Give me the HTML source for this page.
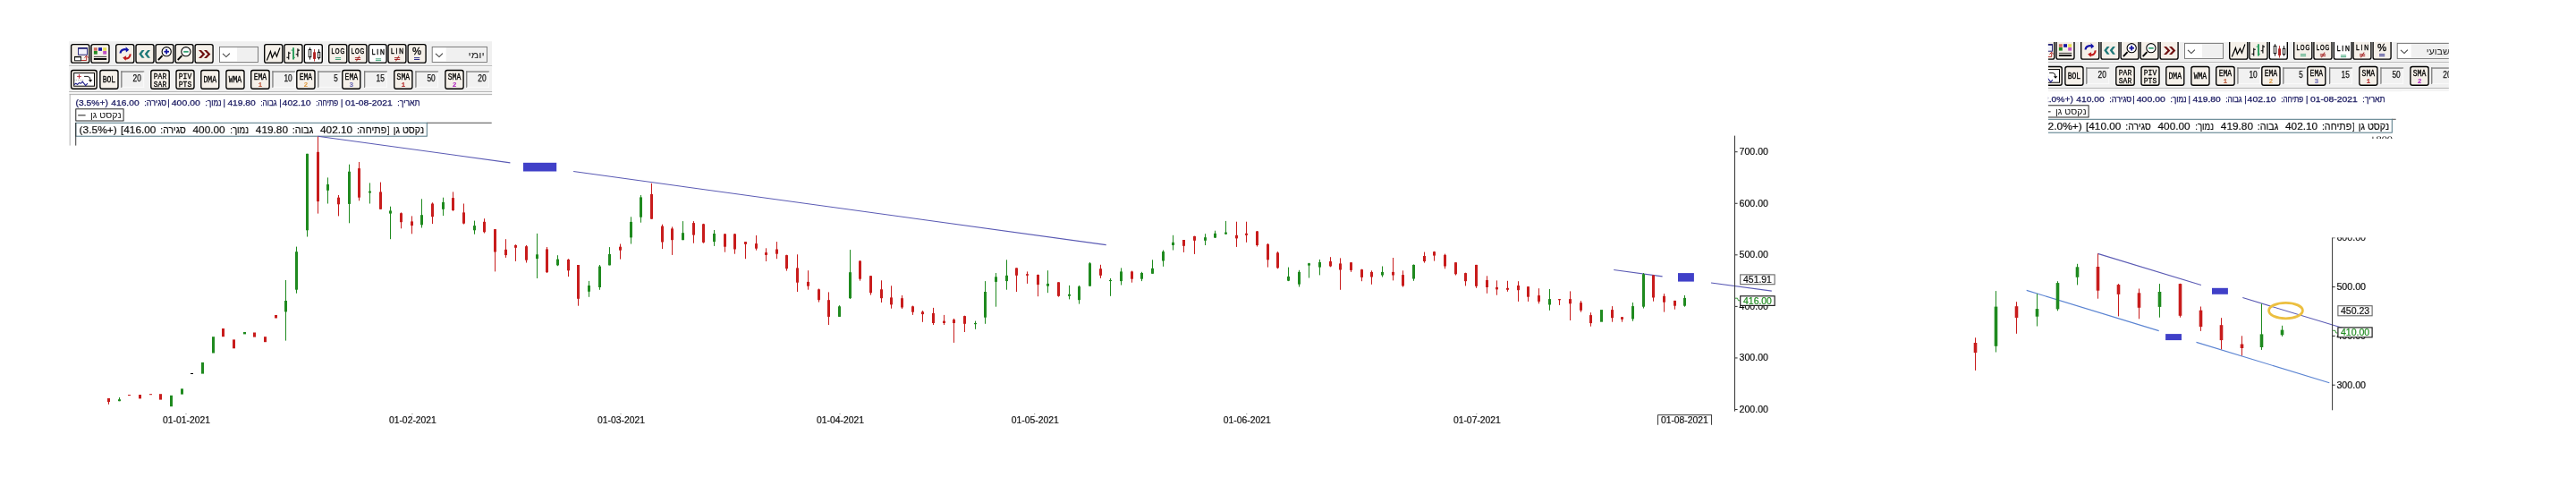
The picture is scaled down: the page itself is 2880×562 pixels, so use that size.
<!DOCTYPE html>
<html><head><meta charset="utf-8"><title>chart</title>
<style>html,body{margin:0;padding:0;background:#fff;width:2880px;height:562px;overflow:hidden;font-family:"Liberation Sans",sans-serif}</style>
</head><body>
<svg width="2880" height="562" viewBox="0 0 2880 562" style="position:absolute;left:0;top:0;display:block;will-change:transform">
<defs><clipPath id="cr1"><rect x="2289.9" y="47" width="447.9" height="55.5"/></clipPath><clipPath id="cr2"><rect x="2289.9" y="102.5" width="395" height="53"/></clipPath><clipPath id="cl"><rect x="0" y="0" width="2100" height="474.7"/></clipPath><clipPath id="crc"><rect x="2180" y="265.6" width="520" height="193"/></clipPath><clipPath id="cfrag"><rect x="2640" y="152.4" width="50" height="2.6"/></clipPath></defs>
<rect width="2880" height="562" fill="#fff"/>
<g clip-path="url(#cl)">
<rect x="77.2" y="46.2" width="472.9" height="59.4" fill="#f0f0f0"/>
<rect x="77.2" y="73.3" width="472.9" height="0.9" fill="#a5a5a5"/><rect x="77.2" y="74.2" width="472.9" height="0.9" fill="#fdfdfd"/>
<rect x="77.2" y="102" width="472.9" height="0.9" fill="#a5a5a5"/><rect x="77.2" y="102.9" width="472.9" height="0.9" fill="#fdfdfd"/>
<rect x="79.6" y="49.6" width="20.2" height="20.5" rx="2.2" ry="2.2" fill="#f5f0e9" stroke="#000" stroke-width="1.35"/>
<rect x="87.6" y="53.9" width="9.9" height="7.3" fill="#f2f2fb" stroke="#10106a" stroke-width="0.9"/><rect x="87.2" y="53.2" width="10.7" height="1.4" fill="#10106a"/>
<rect x="83.6" y="63.6" width="6.8" height="4.2" fill="#fff" stroke="#000" stroke-width="0.9"/><rect x="83.1" y="62.9" width="7.8" height="1.3" fill="#000"/>
<path d="M91 67.5 H96.7 V63.2" stroke="#b02020" stroke-width="0.9" fill="none"/><path d="M94.6 64.6 L96.7 62.2 L98.8 64.6" stroke="#b02020" stroke-width="1" fill="none"/>
<rect x="102" y="49.6" width="20" height="20.5" rx="2.2" ry="2.2" fill="#f5f0e9" stroke="#000" stroke-width="1.35"/>
<rect x="104.9" y="53.2" width="3.9" height="3.6" fill="#d07060"/>
<rect x="110.1" y="53.2" width="3.9" height="3.6" fill="#1414a0"/>
<rect x="115.2" y="53.2" width="3.9" height="3.6" fill="#e8e050"/>
<rect x="104.9" y="57" width="3.9" height="3.6" fill="#208a20"/>
<rect x="115.2" y="57" width="3.9" height="3.6" fill="#c050c4"/>
<rect x="104.9" y="62.9" width="14.3" height="0.8" fill="#000"/><rect x="104.9" y="65" width="14.3" height="1.9" fill="#000"/>
<rect x="129.7" y="49.6" width="20.1" height="20.5" rx="2.2" ry="2.2" fill="#f5f0e9" stroke="#000" stroke-width="1.35"/>
<path d="M134.6 59.6 C134.6 55.8 138.5 54.4 142 55.6" stroke="#1414a8" stroke-width="2.1" fill="none"/><path d="M140.6 52.2 L144.3 55.8 L140.9 58.4 Z" fill="#1414a8"/>
<path d="M145.6 60.4 C145.8 64.4 142.4 66 139.6 65.2" stroke="#c01818" stroke-width="2.1" fill="none"/><path d="M141.2 62.2 L137.2 64.6 L140.6 67.8 Z" fill="#c01818"/>
<rect x="152" y="49.6" width="20" height="20.5" rx="2.2" ry="2.2" fill="#f5f0e9" stroke="#000" stroke-width="1.35"/>
<path d="M158.7 56 L155.3 60.3 L158.7 64.7 L161.6 64.7 L158.3 60.3 L161.6 56 Z" fill="#1f7878"/>
<path d="M165.1 56 L161.7 60.3 L165.1 64.7 L168 64.7 L164.7 60.3 L168 56 Z" fill="#1f7878"/>
<rect x="174.1" y="49.6" width="19.9" height="20.5" rx="2.2" ry="2.2" fill="#f5f0e9" stroke="#000" stroke-width="1.35"/>
<path d="M181.6 62.2 L176.9 67" stroke="#000" stroke-width="1.8"/><circle cx="186.2" cy="57.7" r="5.1" fill="#fff" stroke="#000" stroke-width="1.1"/>
<rect x="183.4" y="56.8" width="5.6" height="1.8" fill="#1414a0"/><rect x="185.3" y="54.9" width="1.8" height="5.6" fill="#1414a0"/>
<rect x="196.1" y="49.6" width="19.9" height="20.5" rx="2.2" ry="2.2" fill="#f5f0e9" stroke="#000" stroke-width="1.35"/>
<path d="M203.4 62.2 L198.7 67" stroke="#000" stroke-width="1.8"/><circle cx="207.9" cy="57.7" r="5.1" fill="#fff" stroke="#000" stroke-width="1.1"/>
<rect x="205.2" y="56.9" width="5.5" height="1.8" fill="#30a070"/>
<rect x="218.1" y="49.6" width="20" height="20.5" rx="2.2" ry="2.2" fill="#f5f0e9" stroke="#000" stroke-width="1.35"/>
<path d="M222 56 L225 56 L229.4 60.5 L225 65 L222 65 L226.3 60.5 Z" fill="#6e1010"/>
<path d="M228 56 L231 56 L235.4 60.5 L231 65 L228 65 L232.3 60.5 Z" fill="#6e1010"/>
<rect x="245.5" y="52.4" width="43" height="17" fill="#fff" stroke="#707070" stroke-width="0.9"/><rect x="264.9" y="53" width="23.1" height="15.9" fill="#f0f0f0"/>
<path d="M249 59.8 L252.9 63.6 L256.9 59.6" stroke="#444" stroke-width="1.1" fill="none"/>
<rect x="295.7" y="49.6" width="20.1" height="20.5" rx="2.2" ry="2.2" fill="#f5f0e9" stroke="#000" stroke-width="1.35"/>
<path d="M298.3 67.5 L302.4 57.4 L304.3 64.3 L307.5 58.3 L309.4 63.1 L312.9 53.5" stroke="#000" stroke-width="1.2" fill="none"/>
<rect x="317.9" y="49.6" width="20.1" height="20.5" rx="2.2" ry="2.2" fill="#f5f0e9" stroke="#000" stroke-width="1.35"/>
<path d="M322.75 57.7 V66.6 M320.4 64.3 H322.75 M322.75 59.3 H324.8" stroke="#000" stroke-width="1.1" fill="none"/>
<path d="M328 53.2 V66.6" stroke="#30a060" stroke-width="2"/><path d="M325.6 56.1 H328 M328 64.3 H329.9" stroke="#30a060" stroke-width="1" fill="none"/>
<path d="M332.9 54.2 V63.4 M330.7 60.7 H332.9 M332.9 56.1 H334.9" stroke="#000" stroke-width="1.1" fill="none"/>
<rect x="340.3" y="49.6" width="20" height="20.5" rx="2.2" ry="2.2" fill="#ffffff" stroke="#000" stroke-width="1.35"/>
<path d="M346.5 53.2 V66.6" stroke="#000" stroke-width="0.9"/><rect x="345.2" y="55.4" width="2.6" height="8.3" fill="#fff" stroke="#000" stroke-width="0.9"/>
<path d="M351.5 55.1 V68.5" stroke="#b02020" stroke-width="0.9"/><rect x="350.1" y="58.3" width="2.9" height="7.6" fill="#b02020"/>
<path d="M356.5 55.1 V66.6" stroke="#000" stroke-width="0.9"/><rect x="355.3" y="58.3" width="2.5" height="6.4" fill="#fff" stroke="#000" stroke-width="0.9"/>
<rect x="367.7" y="49.6" width="20.1" height="20.5" rx="2.2" ry="2.2" fill="#f5f0e9" stroke="#000" stroke-width="1.35"/>
<text x="370.6" y="59.8" font-size="8.5" fill="#000" font-family="Liberation Sans, sans-serif" stroke="#000" stroke-width="0.4" textLength="15.4" lengthAdjust="spacingAndGlyphs" letter-spacing="1.2">LOG</text>
<rect x="374.9" y="64.2" width="6.2" height="0.9" fill="#30a070"/><rect x="374.9" y="66" width="6.2" height="0.9" fill="#30a070"/>
<rect x="389.9" y="49.6" width="20.1" height="20.5" rx="2.2" ry="2.2" fill="#f5f0e9" stroke="#000" stroke-width="1.35"/>
<text x="392.8" y="59.8" font-size="8.5" fill="#000" font-family="Liberation Sans, sans-serif" stroke="#000" stroke-width="0.4" textLength="15.3" lengthAdjust="spacingAndGlyphs" letter-spacing="1.2">LOG</text>
<rect x="396.9" y="64.2" width="6.2" height="0.9" fill="#a01818"/><rect x="396.9" y="66" width="6.2" height="0.9" fill="#a01818"/><path d="M398.4 68.4 L401.9 62.4" stroke="#a01818" stroke-width="0.9" fill="none"/>
<rect x="412.3" y="49.6" width="19.8" height="20.5" rx="2.2" ry="2.2" fill="#ffffff" stroke="#000" stroke-width="1.35"/>
<text x="415.7" y="60.9" font-size="8.5" fill="#000" font-family="Liberation Sans, sans-serif" stroke="#000" stroke-width="0.4" textLength="16.2" lengthAdjust="spacingAndGlyphs" letter-spacing="2.4">LIN</text>
<rect x="419.9" y="65.4" width="6.2" height="0.9" fill="#30a070"/><rect x="419.9" y="67.2" width="6.2" height="0.9" fill="#30a070"/>
<rect x="434" y="49.6" width="19.9" height="20.5" rx="2.2" ry="2.2" fill="#f5f0e9" stroke="#000" stroke-width="1.35"/>
<text x="436.9" y="59.8" font-size="8.5" fill="#000" font-family="Liberation Sans, sans-serif" stroke="#000" stroke-width="0.4" textLength="16" lengthAdjust="spacingAndGlyphs" letter-spacing="2.4">LIN</text>
<rect x="441" y="64.2" width="6.2" height="0.9" fill="#a01818"/><rect x="441" y="66" width="6.2" height="0.9" fill="#a01818"/><path d="M442.5 68.4 L446 62.4" stroke="#a01818" stroke-width="0.9" fill="none"/>
<rect x="456.1" y="49.6" width="20" height="20.5" rx="2.2" ry="2.2" fill="#f5f0e9" stroke="#000" stroke-width="1.35"/>
<text x="461.1" y="61.1" font-size="11.4" fill="#000" font-family="Liberation Sans, sans-serif" stroke="#000" stroke-width="0.3" textLength="10.1" lengthAdjust="spacingAndGlyphs" >%</text>
<rect x="463" y="64.2" width="6.2" height="0.9" fill="#1a1a80"/><rect x="463" y="66" width="6.2" height="0.9" fill="#1a1a80"/>
<rect x="483.2" y="52.4" width="61.3" height="17" fill="#fff" stroke="#707070" stroke-width="0.9"/><rect x="498.7" y="53" width="45.2" height="15.9" fill="#f0f0f0"/>
<path d="M487 59.8 L491 63.6 L494.9 59.6" stroke="#444" stroke-width="1.1" fill="none"/>
<text x="541.8" y="64.6" font-size="10.5" fill="#222" font-family="Liberation Sans, sans-serif" textLength="18.3" lengthAdjust="spacingAndGlyphs" direction="rtl">יומי</text>
<rect x="79.6" y="78.5" width="28.6" height="20.7" rx="2.2" ry="2.2" fill="#f5f0e9" stroke="#000" stroke-width="1.35"/>
<rect x="82.7" y="81.6" width="22.8" height="14.6" fill="#fff" stroke="#000" stroke-width="1"/>
<path d="M86.1 85.4 H90.9 M88.5 83 V87.8" stroke="#b02030" stroke-width="0.9"/>
<path d="M83.4 89.4 H94.2" stroke="#888" stroke-width="0.8" stroke-dasharray="0.8 1"/>
<path d="M83 94.5 L84.9 93.1 L86.5 94.5 L88.7 92.4 L90.3 93.4 L92.2 91.2 L95.7 95.6 L97.9 93.1" stroke="#202088" stroke-width="1.1" fill="none"/>
<path d="M94.1 85.4 H98 Q101.1 85.6 101.1 89.6" stroke="#000" stroke-width="0.9" fill="none"/><path d="M98.9 89.3 H103.3 L101.1 91.8 Z" fill="#000"/>
<rect x="111.9" y="78.5" width="20.1" height="20.7" rx="2.2" ry="2.2" fill="#f5f0e9" stroke="#000" stroke-width="1.35"/>
<text x="114.65" y="91.8" font-size="10.2" fill="#000" font-family="Liberation Mono, monospace" stroke="#000" stroke-width="0.3" textLength="14.6" lengthAdjust="spacingAndGlyphs" >BOL</text>
<rect x="135.2" y="79.4" width="26" height="18.5" fill="#f1f1f1"/>
<rect x="135.2" y="79.4" width="26" height="1.3" fill="#7d7d7d"/>
<rect x="135.2" y="79.4" width="1.3" height="18.5" fill="#7d7d7d"/>
<rect x="136.5" y="96.9" width="24.7" height="1" fill="#fbfbfb"/>
<rect x="160.2" y="80.7" width="1" height="17.2" fill="#fbfbfb"/>
<text x="148.5" y="90.9" font-size="10.1" fill="#111" font-family="Liberation Sans, sans-serif" stroke="#111" stroke-width="0.25" textLength="9.3" lengthAdjust="spacingAndGlyphs" >20</text>
<rect x="168.8" y="78.5" width="20.4" height="20.7" rx="2.2" ry="2.2" fill="#f5f0e9" stroke="#000" stroke-width="1.35"/>
<text x="171.8" y="87.7" font-size="9.9" fill="#000" font-family="Liberation Mono, monospace" stroke="#000" stroke-width="0.3" textLength="14.4" lengthAdjust="spacingAndGlyphs" >PAR</text>
<text x="171.8" y="96.9" font-size="9.9" fill="#000" font-family="Liberation Mono, monospace" stroke="#000" stroke-width="0.3" textLength="14.4" lengthAdjust="spacingAndGlyphs" >SAR</text>
<rect x="197" y="78.5" width="20" height="20.7" rx="2.2" ry="2.2" fill="#f5f0e9" stroke="#000" stroke-width="1.35"/>
<text x="199.8" y="87.7" font-size="9.9" fill="#000" font-family="Liberation Mono, monospace" stroke="#000" stroke-width="0.3" textLength="14.4" lengthAdjust="spacingAndGlyphs" >PIV</text>
<text x="199.8" y="96.9" font-size="9.9" fill="#000" font-family="Liberation Mono, monospace" stroke="#000" stroke-width="0.3" textLength="14.4" lengthAdjust="spacingAndGlyphs" >PTS</text>
<rect x="224.8" y="78.5" width="20" height="20.7" rx="2.2" ry="2.2" fill="#f5f0e9" stroke="#000" stroke-width="1.35"/>
<text x="227.5" y="91.8" font-size="10.2" fill="#000" font-family="Liberation Mono, monospace" stroke="#000" stroke-width="0.3" textLength="14.6" lengthAdjust="spacingAndGlyphs" >DMA</text>
<rect x="252.9" y="78.5" width="20.1" height="20.7" rx="2.2" ry="2.2" fill="#f5f0e9" stroke="#000" stroke-width="1.35"/>
<text x="255.65" y="91.8" font-size="10.2" fill="#000" font-family="Liberation Mono, monospace" stroke="#000" stroke-width="0.3" textLength="14.6" lengthAdjust="spacingAndGlyphs" >WMA</text>
<rect x="280.7" y="78.5" width="20.4" height="20.7" rx="2.2" ry="2.2" fill="#f5f0e9" stroke="#000" stroke-width="1.35"/>
<text x="283.65" y="88.9" font-size="10.2" fill="#000" font-family="Liberation Mono, monospace" stroke="#000" stroke-width="0.3" textLength="14.5" lengthAdjust="spacingAndGlyphs" >EMA</text>
<text x="290.9" y="96.9" font-size="7.9" fill="#b85030" font-family="Liberation Mono, monospace" text-anchor="middle" font-weight="bold" >1</text>
<rect x="304.3" y="79.4" width="25.7" height="18.5" fill="#f1f1f1"/>
<rect x="304.3" y="79.4" width="25.7" height="1.3" fill="#7d7d7d"/>
<rect x="304.3" y="79.4" width="1.3" height="18.5" fill="#7d7d7d"/>
<rect x="305.6" y="96.9" width="24.4" height="1" fill="#fbfbfb"/>
<rect x="329" y="80.7" width="1" height="17.2" fill="#fbfbfb"/>
<text x="317.4" y="90.9" font-size="10.1" fill="#111" font-family="Liberation Sans, sans-serif" stroke="#111" stroke-width="0.25" textLength="9.3" lengthAdjust="spacingAndGlyphs" >10</text>
<rect x="331.8" y="78.5" width="20.2" height="20.7" rx="2.2" ry="2.2" fill="#f5f0e9" stroke="#000" stroke-width="1.35"/>
<text x="334.65" y="88.9" font-size="10.2" fill="#000" font-family="Liberation Mono, monospace" stroke="#000" stroke-width="0.3" textLength="14.5" lengthAdjust="spacingAndGlyphs" >EMA</text>
<text x="341.9" y="96.9" font-size="7.9" fill="#e09a40" font-family="Liberation Mono, monospace" text-anchor="middle" font-weight="bold" >2</text>
<rect x="355.2" y="79.4" width="25.6" height="18.5" fill="#f1f1f1"/>
<rect x="355.2" y="79.4" width="25.6" height="1.3" fill="#7d7d7d"/>
<rect x="355.2" y="79.4" width="1.3" height="18.5" fill="#7d7d7d"/>
<rect x="356.5" y="96.9" width="24.3" height="1" fill="#fbfbfb"/>
<rect x="379.8" y="80.7" width="1" height="17.2" fill="#fbfbfb"/>
<text x="373.2" y="90.9" font-size="10.1" fill="#111" font-family="Liberation Sans, sans-serif" stroke="#111" stroke-width="0.25" textLength="4.5" lengthAdjust="spacingAndGlyphs" >5</text>
<rect x="382.8" y="78.5" width="20" height="20.7" rx="2.2" ry="2.2" fill="#f5f0e9" stroke="#000" stroke-width="1.35"/>
<text x="385.55" y="88.9" font-size="10.2" fill="#000" font-family="Liberation Mono, monospace" stroke="#000" stroke-width="0.3" textLength="14.5" lengthAdjust="spacingAndGlyphs" >EMA</text>
<text x="392.8" y="96.9" font-size="7.9" fill="#6464b4" font-family="Liberation Mono, monospace" text-anchor="middle" font-weight="bold" >3</text>
<rect x="407" y="79.4" width="25.9" height="18.5" fill="#f1f1f1"/>
<rect x="407" y="79.4" width="25.9" height="1.3" fill="#7d7d7d"/>
<rect x="407" y="79.4" width="1.3" height="18.5" fill="#7d7d7d"/>
<rect x="408.3" y="96.9" width="24.6" height="1" fill="#fbfbfb"/>
<rect x="431.9" y="80.7" width="1" height="17.2" fill="#fbfbfb"/>
<text x="420.5" y="90.9" font-size="10.1" fill="#111" font-family="Liberation Sans, sans-serif" stroke="#111" stroke-width="0.25" textLength="9.3" lengthAdjust="spacingAndGlyphs" >15</text>
<rect x="440.8" y="78.5" width="20.1" height="20.7" rx="2.2" ry="2.2" fill="#f5f0e9" stroke="#000" stroke-width="1.35"/>
<text x="443.6" y="88.9" font-size="10.2" fill="#000" font-family="Liberation Mono, monospace" stroke="#000" stroke-width="0.3" textLength="14.5" lengthAdjust="spacingAndGlyphs" >SMA</text>
<text x="450.85" y="96.9" font-size="7.9" fill="#b02020" font-family="Liberation Mono, monospace" text-anchor="middle" font-weight="bold" >1</text>
<rect x="464.3" y="79.4" width="25.8" height="18.5" fill="#f1f1f1"/>
<rect x="464.3" y="79.4" width="25.8" height="1.3" fill="#7d7d7d"/>
<rect x="464.3" y="79.4" width="1.3" height="18.5" fill="#7d7d7d"/>
<rect x="465.6" y="96.9" width="24.5" height="1" fill="#fbfbfb"/>
<rect x="489.1" y="80.7" width="1" height="17.2" fill="#fbfbfb"/>
<text x="477.4" y="90.9" font-size="10.1" fill="#111" font-family="Liberation Sans, sans-serif" stroke="#111" stroke-width="0.25" textLength="9.3" lengthAdjust="spacingAndGlyphs" >50</text>
<rect x="497.9" y="78.5" width="20.2" height="20.7" rx="2.2" ry="2.2" fill="#f5f0e9" stroke="#000" stroke-width="1.35"/>
<text x="500.75" y="88.9" font-size="10.2" fill="#000" font-family="Liberation Mono, monospace" stroke="#000" stroke-width="0.3" textLength="14.5" lengthAdjust="spacingAndGlyphs" >SMA</text>
<text x="508" y="96.9" font-size="7.9" fill="#b020c0" font-family="Liberation Mono, monospace" text-anchor="middle" font-weight="bold" >2</text>
<rect x="521.1" y="79.4" width="25.8" height="18.5" fill="#f1f1f1"/>
<rect x="521.1" y="79.4" width="25.8" height="1.3" fill="#7d7d7d"/>
<rect x="521.1" y="79.4" width="1.3" height="18.5" fill="#7d7d7d"/>
<rect x="522.4" y="96.9" width="24.5" height="1" fill="#fbfbfb"/>
<rect x="545.9" y="80.7" width="1" height="17.2" fill="#fbfbfb"/>
<text x="534.3" y="90.9" font-size="10.1" fill="#111" font-family="Liberation Sans, sans-serif" stroke="#111" stroke-width="0.25" textLength="9.3" lengthAdjust="spacingAndGlyphs" >20</text>
<rect x="77.7" y="105.2" width="472.4" height="57.6" fill="#fff"/>
<rect x="77.7" y="105.2" width="472.4" height="0.9" fill="#a8a8a8"/><rect x="77.7" y="105.2" width="0.9" height="57.4" fill="#a8a8a8"/>
<text x="84.6" y="117.9" font-size="9.3" fill="#15155e" font-family="Liberation Sans, sans-serif" stroke="#15155e" stroke-width="0.25" textLength="36.2" lengthAdjust="spacingAndGlyphs" >(3.5%+)</text>
<text x="124.3" y="117.9" font-size="9.3" fill="#15155e" font-family="Liberation Sans, sans-serif" stroke="#15155e" stroke-width="0.25" textLength="31.3" lengthAdjust="spacingAndGlyphs" >416.00</text>
<text x="186.2" y="117.9" font-size="9.6" fill="#15155e" font-family="Liberation Sans, sans-serif" stroke="#15155e" stroke-width="0.25" textLength="25" lengthAdjust="spacingAndGlyphs" direction="rtl">סגירה:</text>
<text x="187.3" y="117.9" font-size="9.3" fill="#15155e" font-family="Liberation Sans, sans-serif" stroke="#15155e" stroke-width="0.25" >|</text>
<text x="191.8" y="117.9" font-size="9.3" fill="#15155e" font-family="Liberation Sans, sans-serif" stroke="#15155e" stroke-width="0.25" textLength="32" lengthAdjust="spacingAndGlyphs" >400.00</text>
<text x="247.5" y="117.9" font-size="9.6" fill="#15155e" font-family="Liberation Sans, sans-serif" stroke="#15155e" stroke-width="0.25" textLength="18.1" lengthAdjust="spacingAndGlyphs" direction="rtl">נמוך:</text>
<text x="249.6" y="117.9" font-size="9.3" fill="#15155e" font-family="Liberation Sans, sans-serif" stroke="#15155e" stroke-width="0.25" >|</text>
<text x="254.4" y="117.9" font-size="9.3" fill="#15155e" font-family="Liberation Sans, sans-serif" stroke="#15155e" stroke-width="0.25" textLength="31.4" lengthAdjust="spacingAndGlyphs" >419.80</text>
<text x="309.4" y="117.9" font-size="9.6" fill="#15155e" font-family="Liberation Sans, sans-serif" stroke="#15155e" stroke-width="0.25" textLength="18.1" lengthAdjust="spacingAndGlyphs" direction="rtl">גבוה:</text>
<text x="312.2" y="117.9" font-size="9.3" fill="#15155e" font-family="Liberation Sans, sans-serif" stroke="#15155e" stroke-width="0.25" >|</text>
<text x="315.6" y="117.9" font-size="9.3" fill="#15155e" font-family="Liberation Sans, sans-serif" stroke="#15155e" stroke-width="0.25" textLength="32" lengthAdjust="spacingAndGlyphs" >402.10</text>
<text x="378.2" y="117.9" font-size="9.6" fill="#15155e" font-family="Liberation Sans, sans-serif" stroke="#15155e" stroke-width="0.25" textLength="25" lengthAdjust="spacingAndGlyphs" direction="rtl">פתיחה:</text>
<text x="381" y="117.9" font-size="9.3" fill="#15155e" font-family="Liberation Sans, sans-serif" stroke="#15155e" stroke-width="0.25" >|</text>
<text x="385.9" y="117.9" font-size="9.3" fill="#15155e" font-family="Liberation Sans, sans-serif" stroke="#15155e" stroke-width="0.25" textLength="52.9" lengthAdjust="spacingAndGlyphs" >01-08-2021</text>
<text x="469.4" y="117.9" font-size="9.6" fill="#15155e" font-family="Liberation Sans, sans-serif" stroke="#15155e" stroke-width="0.25" textLength="25.1" lengthAdjust="spacingAndGlyphs" direction="rtl">תאריך:</text>
<rect x="84.8" y="121.8" width="53.3" height="13.2" fill="#fff" stroke="#111" stroke-width="0.9"/>
<rect x="87.2" y="128.4" width="8.4" height="0.9" fill="#000"/>
<text x="135.6" y="132.4" font-size="10.3" fill="#111" font-family="Liberation Sans, sans-serif" textLength="34.5" lengthAdjust="spacingAndGlyphs" direction="rtl">נקסט גן</text>
<rect x="477" y="136.8" width="72.7" height="0.9" fill="#3a3a3a"/>
<rect x="84.8" y="137.3" width="392.5" height="14.9" fill="#fff" stroke="#4f7684" stroke-width="1"/>
<rect x="84.3" y="137" width="0.9" height="25.6" fill="#222"/>
<text x="88.5" y="148.8" font-size="11.8" fill="#111" font-family="Liberation Sans, sans-serif" stroke="#111" stroke-width="0.2" textLength="42.3" lengthAdjust="spacingAndGlyphs" >(3.5%+)</text>
<text x="135" y="148.8" font-size="11.8" fill="#111" font-family="Liberation Sans, sans-serif" stroke="#111" stroke-width="0.2" textLength="39.4" lengthAdjust="spacingAndGlyphs" >[416.00</text>
<text x="207.8" y="148.8" font-size="11.6" fill="#111" font-family="Liberation Sans, sans-serif" stroke="#111" stroke-width="0.2" textLength="28.5" lengthAdjust="spacingAndGlyphs" direction="rtl">סגירה:</text>
<text x="215.5" y="148.8" font-size="11.8" fill="#111" font-family="Liberation Sans, sans-serif" stroke="#111" stroke-width="0.2" textLength="36.2" lengthAdjust="spacingAndGlyphs" >400.00</text>
<text x="278.1" y="148.8" font-size="11.6" fill="#111" font-family="Liberation Sans, sans-serif" stroke="#111" stroke-width="0.2" textLength="20.9" lengthAdjust="spacingAndGlyphs" direction="rtl">נמוך:</text>
<text x="285.8" y="148.8" font-size="11.8" fill="#111" font-family="Liberation Sans, sans-serif" stroke="#111" stroke-width="0.2" textLength="36.2" lengthAdjust="spacingAndGlyphs" >419.80</text>
<text x="350.4" y="148.8" font-size="11.6" fill="#111" font-family="Liberation Sans, sans-serif" stroke="#111" stroke-width="0.2" textLength="23.7" lengthAdjust="spacingAndGlyphs" direction="rtl">גבוה:</text>
<text x="358" y="148.8" font-size="11.8" fill="#111" font-family="Liberation Sans, sans-serif" stroke="#111" stroke-width="0.2" textLength="36.2" lengthAdjust="spacingAndGlyphs" >402.10</text>
<text x="432.2" y="148.8" font-size="11.6" fill="#111" font-family="Liberation Sans, sans-serif" stroke="#111" stroke-width="0.2" textLength="33.3" lengthAdjust="spacingAndGlyphs" direction="rtl">פתיחה:</text>
<text x="432.9" y="148.8" font-size="11.8" fill="#111" font-family="Liberation Sans, sans-serif" stroke="#111" stroke-width="0.2" textLength="2.3" lengthAdjust="spacingAndGlyphs" >]</text>
<text x="474.1" y="148.8" font-size="11.6" fill="#111" font-family="Liberation Sans, sans-serif" stroke="#111" stroke-width="0.2" textLength="34.4" lengthAdjust="spacingAndGlyphs" direction="rtl">נקסט גן</text>
<path d="M355.3 152.2 L570.4 181.84 M641.1 191.58 L1236.7 273.66" stroke="#5a5ab4" stroke-width="1.1" fill="none"/>
<rect x="585" y="181.8" width="37.2" height="9.7" fill="#4040c8"/>
<path d="M1804.2 301.5 L1858.6 308.9 M1913 316 L1980.8 325.1" stroke="#5a5ab4" stroke-width="1.1" fill="none"/>
<rect x="1876" y="305.1" width="17.9" height="9.5" fill="#4040c8"/>
<rect x="121" y="445" width="1" height="6.8" fill="#c81c1c"/>
<rect x="120" y="445" width="3" height="4" fill="#c81c1c"/>
<rect x="133" y="444" width="1" height="4.2" fill="#1f8a1f"/>
<rect x="132" y="446.2" width="3" height="2" fill="#1f8a1f"/>
<rect x="143" y="441" width="3" height="1" fill="#c81c1c"/>
<rect x="155" y="441" width="3" height="4.4" fill="#c81c1c"/>
<rect x="167" y="440.2" width="3" height="1" fill="#c81c1c"/>
<rect x="178" y="440.2" width="3" height="6.4" fill="#c81c1c"/>
<rect x="190" y="441.8" width="3" height="12.4" fill="#1f8a1f"/>
<rect x="202" y="434.3" width="3" height="6.3" fill="#1f8a1f"/>
<rect x="213" y="417" width="3" height="1" fill="#000"/>
<rect x="225" y="404.9" width="3" height="12.7" fill="#1f8a1f"/>
<rect x="237" y="376.2" width="3" height="18.3" fill="#1f8a1f"/>
<rect x="248" y="367" width="3" height="9.2" fill="#c81c1c"/>
<rect x="260" y="379.4" width="3" height="9.9" fill="#c81c1c"/>
<rect x="272" y="371" width="3" height="2.4" fill="#1f8a1f"/>
<rect x="283" y="371.5" width="3" height="5.1" fill="#c81c1c"/>
<rect x="295" y="376.2" width="3" height="6" fill="#c81c1c"/>
<rect x="307" y="352" width="3" height="3.5" fill="#c81c1c"/>
<rect x="319" y="313" width="1" height="67.6" fill="#1f8a1f"/>
<rect x="318" y="336" width="3" height="12.4" fill="#1f8a1f"/>
<rect x="331" y="275.6" width="1" height="52.1" fill="#1f8a1f"/>
<rect x="330" y="281.2" width="3" height="42.5" fill="#1f8a1f"/>
<rect x="343" y="171.8" width="1" height="92.7" fill="#1f8a1f"/>
<rect x="342" y="171.8" width="3" height="85.5" fill="#1f8a1f"/>
<rect x="355" y="152.6" width="1" height="86" fill="#c81c1c"/>
<rect x="354" y="169.8" width="3" height="55.3" fill="#c81c1c"/>
<rect x="366" y="198.4" width="1" height="29.1" fill="#1f8a1f"/>
<rect x="365" y="206" width="3" height="6.8" fill="#1f8a1f"/>
<rect x="378" y="218" width="1" height="23.4" fill="#c81c1c"/>
<rect x="377" y="220.7" width="3" height="7.6" fill="#c81c1c"/>
<rect x="390" y="183.7" width="1" height="65.6" fill="#1f8a1f"/>
<rect x="389" y="191.7" width="3" height="36.2" fill="#1f8a1f"/>
<rect x="401" y="181" width="1" height="43.3" fill="#c81c1c"/>
<rect x="400" y="188.1" width="3" height="32.6" fill="#c81c1c"/>
<rect x="413" y="204.4" width="1" height="23.1" fill="#1f8a1f"/>
<rect x="412" y="213.6" width="3" height="1.9" fill="#1f8a1f"/>
<rect x="425" y="203.6" width="1" height="30.2" fill="#c81c1c"/>
<rect x="424" y="214.4" width="3" height="19.4" fill="#c81c1c"/>
<rect x="436" y="230.7" width="1" height="36.5" fill="#1f8a1f"/>
<rect x="435" y="235.4" width="3" height="3.2" fill="#1f8a1f"/>
<rect x="448" y="237.4" width="1" height="17.9" fill="#c81c1c"/>
<rect x="447" y="238.2" width="3" height="10" fill="#c81c1c"/>
<rect x="460" y="241.4" width="1" height="19.9" fill="#c81c1c"/>
<rect x="459" y="247.4" width="3" height="4.7" fill="#c81c1c"/>
<rect x="471" y="222.3" width="1" height="32.2" fill="#1f8a1f"/>
<rect x="470" y="240.2" width="3" height="11.1" fill="#1f8a1f"/>
<rect x="483" y="226.3" width="1" height="23.8" fill="#c81c1c"/>
<rect x="482" y="227.5" width="3" height="14.7" fill="#c81c1c"/>
<rect x="495" y="220.7" width="1" height="20.3" fill="#1f8a1f"/>
<rect x="494" y="225.9" width="3" height="7.9" fill="#1f8a1f"/>
<rect x="506" y="214.4" width="1" height="21.4" fill="#c81c1c"/>
<rect x="505" y="221.1" width="3" height="13.9" fill="#c81c1c"/>
<rect x="518" y="227.5" width="1" height="23" fill="#c81c1c"/>
<rect x="517" y="237.4" width="3" height="12.3" fill="#c81c1c"/>
<rect x="530" y="246.6" width="1" height="15.1" fill="#1f8a1f"/>
<rect x="529" y="252.1" width="3" height="5.2" fill="#1f8a1f"/>
<rect x="541" y="244.2" width="1" height="16.3" fill="#c81c1c"/>
<rect x="540" y="247.8" width="3" height="11.5" fill="#c81c1c"/>
<rect x="553" y="256.1" width="1" height="47.3" fill="#c81c1c"/>
<rect x="552" y="256.1" width="3" height="25.4" fill="#c81c1c"/>
<rect x="565" y="267.2" width="1" height="20.7" fill="#c81c1c"/>
<rect x="564" y="278.8" width="3" height="6.3" fill="#c81c1c"/>
<rect x="576" y="273.2" width="1" height="18.7" fill="#c81c1c"/>
<rect x="575" y="274" width="3" height="2.8" fill="#c81c1c"/>
<rect x="588" y="274" width="1" height="19.5" fill="#c81c1c"/>
<rect x="587" y="275.2" width="3" height="15.5" fill="#c81c1c"/>
<rect x="600" y="260.9" width="1" height="50.1" fill="#1f8a1f"/>
<rect x="599" y="284.3" width="3" height="4.8" fill="#1f8a1f"/>
<rect x="611" y="276" width="1" height="29" fill="#c81c1c"/>
<rect x="610" y="278.4" width="3" height="25.8" fill="#c81c1c"/>
<rect x="623" y="285.2" width="1" height="12" fill="#1f8a1f"/>
<rect x="622" y="289.6" width="3" height="6.8" fill="#1f8a1f"/>
<rect x="635" y="289.2" width="1" height="19.9" fill="#c81c1c"/>
<rect x="634" y="290" width="3" height="12.3" fill="#c81c1c"/>
<rect x="646" y="296" width="1" height="45.7" fill="#c81c1c"/>
<rect x="645" y="296" width="3" height="37.8" fill="#c81c1c"/>
<rect x="658" y="313.9" width="1" height="17.9" fill="#1f8a1f"/>
<rect x="657" y="319" width="3" height="6.8" fill="#1f8a1f"/>
<rect x="670" y="296" width="1" height="27.8" fill="#1f8a1f"/>
<rect x="669" y="297.6" width="3" height="23.4" fill="#1f8a1f"/>
<rect x="681" y="276.1" width="1" height="20.3" fill="#1f8a1f"/>
<rect x="680" y="284" width="3" height="12.4" fill="#1f8a1f"/>
<rect x="693" y="272.5" width="1" height="17.1" fill="#c81c1c"/>
<rect x="692" y="275.7" width="3" height="4" fill="#c81c1c"/>
<rect x="705" y="242.3" width="1" height="30.2" fill="#1f8a1f"/>
<rect x="704" y="247.9" width="3" height="17.5" fill="#1f8a1f"/>
<rect x="716" y="218" width="1" height="30.7" fill="#1f8a1f"/>
<rect x="715" y="220.4" width="3" height="22.3" fill="#1f8a1f"/>
<rect x="728" y="204.9" width="1" height="39.8" fill="#c81c1c"/>
<rect x="727" y="216.9" width="3" height="27.8" fill="#c81c1c"/>
<rect x="740" y="250.7" width="1" height="27.4" fill="#c81c1c"/>
<rect x="739" y="252.6" width="3" height="17.9" fill="#c81c1c"/>
<rect x="751" y="253.4" width="1" height="31.5" fill="#c81c1c"/>
<rect x="750" y="255.4" width="3" height="12.8" fill="#c81c1c"/>
<rect x="763" y="247.1" width="1" height="21.1" fill="#1f8a1f"/>
<rect x="762" y="260.2" width="3" height="8" fill="#1f8a1f"/>
<rect x="775" y="247.1" width="1" height="24.6" fill="#c81c1c"/>
<rect x="774" y="249.1" width="3" height="13.5" fill="#c81c1c"/>
<rect x="786" y="249.9" width="1" height="21.8" fill="#c81c1c"/>
<rect x="785" y="250.3" width="3" height="20.6" fill="#c81c1c"/>
<rect x="798" y="257" width="1" height="17.9" fill="#1f8a1f"/>
<rect x="797" y="261" width="3" height="9.1" fill="#1f8a1f"/>
<rect x="810" y="261" width="1" height="20.7" fill="#c81c1c"/>
<rect x="809" y="261.4" width="3" height="14.3" fill="#c81c1c"/>
<rect x="821" y="261" width="1" height="22.7" fill="#c81c1c"/>
<rect x="820" y="261.4" width="3" height="17.1" fill="#c81c1c"/>
<rect x="833" y="270.1" width="1" height="19.1" fill="#c81c1c"/>
<rect x="832" y="270.1" width="3" height="2.8" fill="#c81c1c"/>
<rect x="845" y="263" width="1" height="16.7" fill="#c81c1c"/>
<rect x="844" y="272.1" width="3" height="5.6" fill="#c81c1c"/>
<rect x="856" y="277.3" width="1" height="14.7" fill="#c81c1c"/>
<rect x="855" y="282.1" width="3" height="2.8" fill="#c81c1c"/>
<rect x="868" y="270.1" width="1" height="19.1" fill="#c81c1c"/>
<rect x="867" y="278.5" width="3" height="5.2" fill="#c81c1c"/>
<rect x="879" y="284.7" width="1" height="17.9" fill="#c81c1c"/>
<rect x="878" y="285.1" width="3" height="15.1" fill="#c81c1c"/>
<rect x="891" y="284.3" width="1" height="41.7" fill="#c81c1c"/>
<rect x="890" y="299.4" width="3" height="16.3" fill="#c81c1c"/>
<rect x="903" y="302.2" width="1" height="21.5" fill="#c81c1c"/>
<rect x="902" y="314.9" width="3" height="4.8" fill="#c81c1c"/>
<rect x="915" y="322.5" width="1" height="15.1" fill="#c81c1c"/>
<rect x="914" y="323.3" width="3" height="11.9" fill="#c81c1c"/>
<rect x="926" y="326.4" width="1" height="36.6" fill="#c81c1c"/>
<rect x="925" y="335.2" width="3" height="18.7" fill="#c81c1c"/>
<rect x="938" y="341.2" width="1" height="12.7" fill="#1f8a1f"/>
<rect x="937" y="342.3" width="3" height="11.6" fill="#1f8a1f"/>
<rect x="950" y="279.1" width="1" height="54.9" fill="#1f8a1f"/>
<rect x="949" y="304.2" width="3" height="29" fill="#1f8a1f"/>
<rect x="961" y="291.1" width="1" height="22.6" fill="#c81c1c"/>
<rect x="960" y="291.5" width="3" height="20.2" fill="#c81c1c"/>
<rect x="973" y="308.2" width="1" height="21.4" fill="#c81c1c"/>
<rect x="972" y="308.2" width="3" height="19" fill="#c81c1c"/>
<rect x="985" y="313.3" width="1" height="24.7" fill="#c81c1c"/>
<rect x="984" y="323.3" width="3" height="9.9" fill="#c81c1c"/>
<rect x="996" y="319.3" width="1" height="25.4" fill="#c81c1c"/>
<rect x="995" y="332.4" width="3" height="8" fill="#c81c1c"/>
<rect x="1008" y="330" width="1" height="15.1" fill="#c81c1c"/>
<rect x="1007" y="333.2" width="3" height="10.3" fill="#c81c1c"/>
<rect x="1020" y="341.6" width="1" height="10.3" fill="#c81c1c"/>
<rect x="1019" y="342.3" width="3" height="6.4" fill="#c81c1c"/>
<rect x="1031" y="347.1" width="1" height="12.7" fill="#c81c1c"/>
<rect x="1030" y="348.3" width="3" height="2.8" fill="#c81c1c"/>
<rect x="1043" y="343.9" width="1" height="19.1" fill="#c81c1c"/>
<rect x="1042" y="349.9" width="3" height="11.1" fill="#c81c1c"/>
<rect x="1055" y="351.9" width="1" height="11.1" fill="#c81c1c"/>
<rect x="1054" y="358.6" width="3" height="2.4" fill="#c81c1c"/>
<rect x="1066" y="355.9" width="1" height="27" fill="#c81c1c"/>
<rect x="1065" y="357.1" width="3" height="3.9" fill="#c81c1c"/>
<rect x="1078" y="352.7" width="1" height="18.3" fill="#c81c1c"/>
<rect x="1077" y="353.1" width="3" height="8.7" fill="#c81c1c"/>
<rect x="1090" y="358.6" width="1" height="9.2" fill="#1f8a1f"/>
<rect x="1089" y="361" width="3" height="1.2" fill="#1f8a1f"/>
<rect x="1101" y="314.1" width="1" height="47.7" fill="#1f8a1f"/>
<rect x="1100" y="326" width="3" height="28.7" fill="#1f8a1f"/>
<rect x="1113" y="305" width="1" height="37.7" fill="#1f8a1f"/>
<rect x="1112" y="309.3" width="3" height="5.6" fill="#1f8a1f"/>
<rect x="1125" y="290.3" width="1" height="33.4" fill="#1f8a1f"/>
<rect x="1124" y="307.8" width="3" height="6.3" fill="#1f8a1f"/>
<rect x="1136" y="299.4" width="1" height="26.6" fill="#c81c1c"/>
<rect x="1135" y="299.4" width="3" height="8.4" fill="#c81c1c"/>
<rect x="1148" y="303.4" width="1" height="13.5" fill="#c81c1c"/>
<rect x="1147" y="306.2" width="3" height="1.6" fill="#c81c1c"/>
<rect x="1160" y="306.6" width="1" height="24.6" fill="#c81c1c"/>
<rect x="1159" y="307" width="3" height="11.1" fill="#c81c1c"/>
<rect x="1171" y="302.2" width="1" height="25" fill="#1f8a1f"/>
<rect x="1170" y="316.9" width="3" height="2.8" fill="#1f8a1f"/>
<rect x="1183" y="315.3" width="1" height="16.3" fill="#c81c1c"/>
<rect x="1182" y="315.3" width="3" height="15.5" fill="#c81c1c"/>
<rect x="1195" y="318.9" width="1" height="15.5" fill="#1f8a1f"/>
<rect x="1194" y="328.8" width="3" height="2" fill="#1f8a1f"/>
<rect x="1206" y="318.9" width="1" height="20.7" fill="#1f8a1f"/>
<rect x="1205" y="320.1" width="3" height="15.1" fill="#1f8a1f"/>
<rect x="1218" y="293" width="1" height="26.7" fill="#1f8a1f"/>
<rect x="1217" y="294.2" width="3" height="25.5" fill="#1f8a1f"/>
<rect x="1230" y="295.8" width="1" height="15.1" fill="#c81c1c"/>
<rect x="1229" y="300.2" width="3" height="7.6" fill="#c81c1c"/>
<rect x="1241" y="310.9" width="1" height="19.9" fill="#1f8a1f"/>
<rect x="1240" y="312.9" width="3" height="1.2" fill="#1f8a1f"/>
<rect x="1253" y="299.4" width="1" height="19.1" fill="#1f8a1f"/>
<rect x="1252" y="303.4" width="3" height="10.7" fill="#1f8a1f"/>
<rect x="1265" y="302.6" width="1" height="13.1" fill="#c81c1c"/>
<rect x="1264" y="303.4" width="3" height="8.3" fill="#c81c1c"/>
<rect x="1276" y="303.8" width="1" height="10.3" fill="#1f8a1f"/>
<rect x="1275" y="305" width="3" height="6.7" fill="#1f8a1f"/>
<rect x="1288" y="290.3" width="1" height="15.5" fill="#1f8a1f"/>
<rect x="1287" y="299.8" width="3" height="6" fill="#1f8a1f"/>
<rect x="1300" y="279.5" width="1" height="18.3" fill="#1f8a1f"/>
<rect x="1299" y="281.1" width="3" height="10.4" fill="#1f8a1f"/>
<rect x="1311" y="262.8" width="1" height="16.7" fill="#1f8a1f"/>
<rect x="1310" y="270.8" width="3" height="3.2" fill="#1f8a1f"/>
<rect x="1323" y="268" width="1" height="13.9" fill="#c81c1c"/>
<rect x="1322" y="268" width="3" height="6.8" fill="#c81c1c"/>
<rect x="1335" y="263.6" width="1" height="20.3" fill="#c81c1c"/>
<rect x="1334" y="264" width="3" height="4.8" fill="#c81c1c"/>
<rect x="1347" y="261.2" width="1" height="12.8" fill="#1f8a1f"/>
<rect x="1346" y="265.2" width="3" height="3.6" fill="#1f8a1f"/>
<rect x="1358" y="257.7" width="1" height="8.3" fill="#1f8a1f"/>
<rect x="1357" y="260.8" width="3" height="4.8" fill="#1f8a1f"/>
<rect x="1370" y="246.9" width="1" height="15.1" fill="#1f8a1f"/>
<rect x="1369" y="259.6" width="3" height="2" fill="#1f8a1f"/>
<rect x="1382" y="247.7" width="1" height="28.2" fill="#c81c1c"/>
<rect x="1381" y="262.8" width="3" height="3.6" fill="#c81c1c"/>
<rect x="1393" y="247.7" width="1" height="23.1" fill="#c81c1c"/>
<rect x="1392" y="260.8" width="3" height="2" fill="#c81c1c"/>
<rect x="1405" y="258" width="1" height="17.5" fill="#c81c1c"/>
<rect x="1404" y="258.4" width="3" height="15.6" fill="#c81c1c"/>
<rect x="1417" y="272" width="1" height="26.6" fill="#c81c1c"/>
<rect x="1416" y="272.8" width="3" height="17.5" fill="#c81c1c"/>
<rect x="1428" y="281.1" width="1" height="19.1" fill="#c81c1c"/>
<rect x="1427" y="282.3" width="3" height="17.1" fill="#c81c1c"/>
<rect x="1440" y="298.6" width="1" height="15.5" fill="#1f8a1f"/>
<rect x="1439" y="308.9" width="3" height="4.8" fill="#1f8a1f"/>
<rect x="1452" y="301.8" width="1" height="18.7" fill="#1f8a1f"/>
<rect x="1451" y="303.8" width="3" height="13.9" fill="#1f8a1f"/>
<rect x="1463" y="293.8" width="1" height="16.7" fill="#1f8a1f"/>
<rect x="1462" y="294.2" width="3" height="2.4" fill="#1f8a1f"/>
<rect x="1475" y="289.9" width="1" height="17.5" fill="#1f8a1f"/>
<rect x="1474" y="293" width="3" height="5.6" fill="#1f8a1f"/>
<rect x="1487" y="287.2" width="1" height="11.1" fill="#c81c1c"/>
<rect x="1486" y="292" width="3" height="5.5" fill="#c81c1c"/>
<rect x="1498" y="288.4" width="1" height="35.4" fill="#c81c1c"/>
<rect x="1497" y="294.4" width="3" height="7.1" fill="#c81c1c"/>
<rect x="1510" y="293.2" width="1" height="10.7" fill="#c81c1c"/>
<rect x="1509" y="293.2" width="3" height="8.7" fill="#c81c1c"/>
<rect x="1522" y="300.7" width="1" height="13.5" fill="#c81c1c"/>
<rect x="1521" y="301.1" width="3" height="8.8" fill="#c81c1c"/>
<rect x="1533" y="302.3" width="1" height="15.5" fill="#c81c1c"/>
<rect x="1532" y="303.9" width="3" height="5.6" fill="#c81c1c"/>
<rect x="1545" y="297.5" width="1" height="12" fill="#1f8a1f"/>
<rect x="1544" y="303.9" width="3" height="3.6" fill="#1f8a1f"/>
<rect x="1557" y="288" width="1" height="25.4" fill="#c81c1c"/>
<rect x="1556" y="303.9" width="3" height="3.6" fill="#c81c1c"/>
<rect x="1568" y="302.3" width="1" height="18.3" fill="#c81c1c"/>
<rect x="1567" y="307.1" width="3" height="12.3" fill="#c81c1c"/>
<rect x="1580" y="295.5" width="1" height="18.3" fill="#1f8a1f"/>
<rect x="1579" y="295.9" width="3" height="15.6" fill="#1f8a1f"/>
<rect x="1592" y="281.6" width="1" height="12" fill="#c81c1c"/>
<rect x="1591" y="286" width="3" height="6" fill="#c81c1c"/>
<rect x="1603" y="280.8" width="1" height="10.8" fill="#c81c1c"/>
<rect x="1602" y="281.2" width="3" height="4.4" fill="#c81c1c"/>
<rect x="1615" y="283.6" width="1" height="16.7" fill="#c81c1c"/>
<rect x="1614" y="284.8" width="3" height="12.7" fill="#c81c1c"/>
<rect x="1627" y="293.2" width="1" height="14.3" fill="#c81c1c"/>
<rect x="1626" y="293.2" width="3" height="13.1" fill="#c81c1c"/>
<rect x="1638" y="304.7" width="1" height="14.7" fill="#c81c1c"/>
<rect x="1637" y="305.1" width="3" height="9.1" fill="#c81c1c"/>
<rect x="1650" y="295.9" width="1" height="25.9" fill="#c81c1c"/>
<rect x="1649" y="295.9" width="3" height="23.9" fill="#c81c1c"/>
<rect x="1662" y="308.3" width="1" height="19.5" fill="#c81c1c"/>
<rect x="1661" y="313" width="3" height="8" fill="#c81c1c"/>
<rect x="1673" y="313.4" width="1" height="16.3" fill="#c81c1c"/>
<rect x="1672" y="321" width="3" height="2.4" fill="#c81c1c"/>
<rect x="1685" y="313.8" width="1" height="12" fill="#c81c1c"/>
<rect x="1684" y="321.8" width="3" height="2" fill="#c81c1c"/>
<rect x="1697" y="314.2" width="1" height="22.7" fill="#c81c1c"/>
<rect x="1696" y="319" width="3" height="5.2" fill="#c81c1c"/>
<rect x="1708" y="320.2" width="1" height="16.7" fill="#c81c1c"/>
<rect x="1707" y="320.2" width="3" height="11.5" fill="#c81c1c"/>
<rect x="1720" y="322.2" width="1" height="17.1" fill="#c81c1c"/>
<rect x="1719" y="330.1" width="3" height="6.8" fill="#c81c1c"/>
<rect x="1732" y="323" width="1" height="23.8" fill="#1f8a1f"/>
<rect x="1731" y="334.1" width="3" height="6.4" fill="#1f8a1f"/>
<rect x="1743" y="334.1" width="1" height="6.8" fill="#c81c1c"/>
<rect x="1742" y="334.1" width="3" height="1.2" fill="#c81c1c"/>
<rect x="1755" y="325.4" width="1" height="32.6" fill="#c81c1c"/>
<rect x="1754" y="334.1" width="3" height="5.2" fill="#c81c1c"/>
<rect x="1767" y="336.1" width="1" height="12.6" fill="#c81c1c"/>
<rect x="1766" y="338.2" width="3" height="8.6" fill="#c81c1c"/>
<rect x="1778" y="349.2" width="1" height="15.5" fill="#c81c1c"/>
<rect x="1777" y="352.1" width="3" height="9" fill="#c81c1c"/>
<rect x="1789" y="346.1" width="3" height="13.6" fill="#1f8a1f"/>
<rect x="1802" y="342.1" width="1" height="17.6" fill="#c81c1c"/>
<rect x="1801" y="346.1" width="3" height="9.1" fill="#c81c1c"/>
<rect x="1813" y="354.2" width="1" height="5.5" fill="#c81c1c"/>
<rect x="1812" y="354.2" width="3" height="2.6" fill="#c81c1c"/>
<rect x="1825" y="338" width="1" height="20.8" fill="#1f8a1f"/>
<rect x="1824" y="342.1" width="3" height="14.3" fill="#1f8a1f"/>
<rect x="1837" y="305.1" width="1" height="39.4" fill="#1f8a1f"/>
<rect x="1836" y="306.3" width="3" height="36.4" fill="#1f8a1f"/>
<rect x="1848" y="307.4" width="1" height="29.3" fill="#c81c1c"/>
<rect x="1847" y="307.5" width="3" height="25" fill="#c81c1c"/>
<rect x="1860" y="328.1" width="1" height="20.5" fill="#c81c1c"/>
<rect x="1859" y="330.8" width="3" height="6.9" fill="#c81c1c"/>
<rect x="1872" y="335.9" width="1" height="9.8" fill="#c81c1c"/>
<rect x="1871" y="335.9" width="3" height="5.8" fill="#c81c1c"/>
<rect x="1883" y="329.9" width="1" height="12.8" fill="#1f8a1f"/>
<rect x="1882" y="332.9" width="3" height="8.8" fill="#1f8a1f"/>
<rect x="1939" y="151.6" width="1" height="308" fill="#333"/>
<rect x="1939" y="169.2" width="3.6" height="1" fill="#333"/>
<text x="1944.6" y="173.1" font-size="10" fill="#111" font-family="Liberation Sans, sans-serif" stroke="#111" stroke-width="0.2" textLength="32.4" lengthAdjust="spacingAndGlyphs" >700.00</text>
<rect x="1939" y="226.76" width="3.6" height="1" fill="#333"/>
<text x="1944.6" y="230.66" font-size="10" fill="#111" font-family="Liberation Sans, sans-serif" stroke="#111" stroke-width="0.2" textLength="32.4" lengthAdjust="spacingAndGlyphs" >600.00</text>
<rect x="1939" y="284.32" width="3.6" height="1" fill="#333"/>
<text x="1944.6" y="288.22" font-size="10" fill="#111" font-family="Liberation Sans, sans-serif" stroke="#111" stroke-width="0.2" textLength="32.4" lengthAdjust="spacingAndGlyphs" >500.00</text>
<rect x="1939" y="341.88" width="3.6" height="1" fill="#333"/>
<text x="1944.6" y="345.78" font-size="10" fill="#111" font-family="Liberation Sans, sans-serif" stroke="#111" stroke-width="0.2" textLength="32.4" lengthAdjust="spacingAndGlyphs" >400.00</text>
<rect x="1939" y="399.44" width="3.6" height="1" fill="#333"/>
<text x="1944.6" y="403.34" font-size="10" fill="#111" font-family="Liberation Sans, sans-serif" stroke="#111" stroke-width="0.2" textLength="32.4" lengthAdjust="spacingAndGlyphs" >300.00</text>
<rect x="1939" y="457" width="3.6" height="1" fill="#333"/>
<text x="1944.6" y="460.9" font-size="10" fill="#111" font-family="Liberation Sans, sans-serif" stroke="#111" stroke-width="0.2" textLength="32.4" lengthAdjust="spacingAndGlyphs" >200.00</text>
<rect x="1945.7" y="306.9" width="38.4" height="10.8" fill="#fff" stroke="#666" stroke-width="1.1"/>
<text x="1949.1" y="315.8" font-size="10" fill="#111" font-family="Liberation Sans, sans-serif" stroke="#111" stroke-width="0.2" textLength="31.8" lengthAdjust="spacingAndGlyphs" >451.91</text>
<path d="M1940 333.2 H1942.5 L1943.5 335.8 H1945.5" stroke="#1f8a1f" stroke-width="0.9" fill="none"/>
<rect x="1945.7" y="330.8" width="38.4" height="10.6" fill="#fff" stroke="#222" stroke-width="1.2"/>
<text x="1949.1" y="339.6" font-size="10" fill="#1f8a1f" font-family="Liberation Sans, sans-serif" stroke="#1f8a1f" stroke-width="0.2" textLength="31.8" lengthAdjust="spacingAndGlyphs" >416.00</text>
<text x="182" y="472.8" font-size="10" fill="#111" font-family="Liberation Sans, sans-serif" stroke="#111" stroke-width="0.2" textLength="53" lengthAdjust="spacingAndGlyphs" >01-01-2021</text>
<rect x="207.5" y="462" width="1" height="1" fill="#777"/>
<text x="434.9" y="472.8" font-size="10" fill="#111" font-family="Liberation Sans, sans-serif" stroke="#111" stroke-width="0.2" textLength="53" lengthAdjust="spacingAndGlyphs" >01-02-2021</text>
<rect x="460.4" y="462" width="1" height="1" fill="#777"/>
<text x="668" y="472.8" font-size="10" fill="#111" font-family="Liberation Sans, sans-serif" stroke="#111" stroke-width="0.2" textLength="53" lengthAdjust="spacingAndGlyphs" >01-03-2021</text>
<rect x="693.5" y="462" width="1" height="1" fill="#777"/>
<text x="913" y="472.8" font-size="10" fill="#111" font-family="Liberation Sans, sans-serif" stroke="#111" stroke-width="0.2" textLength="53" lengthAdjust="spacingAndGlyphs" >01-04-2021</text>
<rect x="938.5" y="462" width="1" height="1" fill="#777"/>
<text x="1130.7" y="472.8" font-size="10" fill="#111" font-family="Liberation Sans, sans-serif" stroke="#111" stroke-width="0.2" textLength="53" lengthAdjust="spacingAndGlyphs" >01-05-2021</text>
<rect x="1156.2" y="462" width="1" height="1" fill="#777"/>
<text x="1367.8" y="472.8" font-size="10" fill="#111" font-family="Liberation Sans, sans-serif" stroke="#111" stroke-width="0.2" textLength="53" lengthAdjust="spacingAndGlyphs" >01-06-2021</text>
<rect x="1393.3" y="462" width="1" height="1" fill="#777"/>
<text x="1624.9" y="472.8" font-size="10" fill="#111" font-family="Liberation Sans, sans-serif" stroke="#111" stroke-width="0.2" textLength="53" lengthAdjust="spacingAndGlyphs" >01-07-2021</text>
<rect x="1650.4" y="462" width="1" height="1" fill="#777"/>
<rect x="1853.6" y="463.7" width="60" height="14" fill="#fff" stroke="#222" stroke-width="0.9"/>
<text x="1856.9" y="472.8" font-size="10" fill="#111" font-family="Liberation Sans, sans-serif" stroke="#111" stroke-width="0.2" textLength="52.9" lengthAdjust="spacingAndGlyphs" >01-08-2021</text>
</g>
<g clip-path="url(#cr1)"><g transform="translate(2197,-4)"><rect x="77.2" y="46.2" width="472.9" height="59.4" fill="#f0f0f0"/>
<rect x="77.2" y="73.3" width="472.9" height="0.9" fill="#a5a5a5"/><rect x="77.2" y="74.2" width="472.9" height="0.9" fill="#fdfdfd"/>
<rect x="77.2" y="102" width="472.9" height="0.9" fill="#a5a5a5"/><rect x="77.2" y="102.9" width="472.9" height="0.9" fill="#fdfdfd"/>
<rect x="79.6" y="49.6" width="20.2" height="20.5" rx="2.2" ry="2.2" fill="#f5f0e9" stroke="#000" stroke-width="1.35"/>
<rect x="87.6" y="53.9" width="9.9" height="7.3" fill="#f2f2fb" stroke="#10106a" stroke-width="0.9"/><rect x="87.2" y="53.2" width="10.7" height="1.4" fill="#10106a"/>
<rect x="83.6" y="63.6" width="6.8" height="4.2" fill="#fff" stroke="#000" stroke-width="0.9"/><rect x="83.1" y="62.9" width="7.8" height="1.3" fill="#000"/>
<path d="M91 67.5 H96.7 V63.2" stroke="#b02020" stroke-width="0.9" fill="none"/><path d="M94.6 64.6 L96.7 62.2 L98.8 64.6" stroke="#b02020" stroke-width="1" fill="none"/>
<rect x="102" y="49.6" width="20" height="20.5" rx="2.2" ry="2.2" fill="#f5f0e9" stroke="#000" stroke-width="1.35"/>
<rect x="104.9" y="53.2" width="3.9" height="3.6" fill="#d07060"/>
<rect x="110.1" y="53.2" width="3.9" height="3.6" fill="#1414a0"/>
<rect x="115.2" y="53.2" width="3.9" height="3.6" fill="#e8e050"/>
<rect x="104.9" y="57" width="3.9" height="3.6" fill="#208a20"/>
<rect x="115.2" y="57" width="3.9" height="3.6" fill="#c050c4"/>
<rect x="104.9" y="62.9" width="14.3" height="0.8" fill="#000"/><rect x="104.9" y="65" width="14.3" height="1.9" fill="#000"/>
<rect x="129.7" y="49.6" width="20.1" height="20.5" rx="2.2" ry="2.2" fill="#f5f0e9" stroke="#000" stroke-width="1.35"/>
<path d="M134.6 59.6 C134.6 55.8 138.5 54.4 142 55.6" stroke="#1414a8" stroke-width="2.1" fill="none"/><path d="M140.6 52.2 L144.3 55.8 L140.9 58.4 Z" fill="#1414a8"/>
<path d="M145.6 60.4 C145.8 64.4 142.4 66 139.6 65.2" stroke="#c01818" stroke-width="2.1" fill="none"/><path d="M141.2 62.2 L137.2 64.6 L140.6 67.8 Z" fill="#c01818"/>
<rect x="152" y="49.6" width="20" height="20.5" rx="2.2" ry="2.2" fill="#f5f0e9" stroke="#000" stroke-width="1.35"/>
<path d="M158.7 56 L155.3 60.3 L158.7 64.7 L161.6 64.7 L158.3 60.3 L161.6 56 Z" fill="#1f7878"/>
<path d="M165.1 56 L161.7 60.3 L165.1 64.7 L168 64.7 L164.7 60.3 L168 56 Z" fill="#1f7878"/>
<rect x="174.1" y="49.6" width="19.9" height="20.5" rx="2.2" ry="2.2" fill="#f5f0e9" stroke="#000" stroke-width="1.35"/>
<path d="M181.6 62.2 L176.9 67" stroke="#000" stroke-width="1.8"/><circle cx="186.2" cy="57.7" r="5.1" fill="#fff" stroke="#000" stroke-width="1.1"/>
<rect x="183.4" y="56.8" width="5.6" height="1.8" fill="#1414a0"/><rect x="185.3" y="54.9" width="1.8" height="5.6" fill="#1414a0"/>
<rect x="196.1" y="49.6" width="19.9" height="20.5" rx="2.2" ry="2.2" fill="#f5f0e9" stroke="#000" stroke-width="1.35"/>
<path d="M203.4 62.2 L198.7 67" stroke="#000" stroke-width="1.8"/><circle cx="207.9" cy="57.7" r="5.1" fill="#fff" stroke="#000" stroke-width="1.1"/>
<rect x="205.2" y="56.9" width="5.5" height="1.8" fill="#30a070"/>
<rect x="218.1" y="49.6" width="20" height="20.5" rx="2.2" ry="2.2" fill="#f5f0e9" stroke="#000" stroke-width="1.35"/>
<path d="M222 56 L225 56 L229.4 60.5 L225 65 L222 65 L226.3 60.5 Z" fill="#6e1010"/>
<path d="M228 56 L231 56 L235.4 60.5 L231 65 L228 65 L232.3 60.5 Z" fill="#6e1010"/>
<rect x="245.5" y="52.4" width="43" height="17" fill="#fff" stroke="#707070" stroke-width="0.9"/><rect x="264.9" y="53" width="23.1" height="15.9" fill="#f0f0f0"/>
<path d="M249 59.8 L252.9 63.6 L256.9 59.6" stroke="#444" stroke-width="1.1" fill="none"/>
<rect x="295.7" y="49.6" width="20.1" height="20.5" rx="2.2" ry="2.2" fill="#f5f0e9" stroke="#000" stroke-width="1.35"/>
<path d="M298.3 67.5 L302.4 57.4 L304.3 64.3 L307.5 58.3 L309.4 63.1 L312.9 53.5" stroke="#000" stroke-width="1.2" fill="none"/>
<rect x="317.9" y="49.6" width="20.1" height="20.5" rx="2.2" ry="2.2" fill="#f5f0e9" stroke="#000" stroke-width="1.35"/>
<path d="M322.75 57.7 V66.6 M320.4 64.3 H322.75 M322.75 59.3 H324.8" stroke="#000" stroke-width="1.1" fill="none"/>
<path d="M328 53.2 V66.6" stroke="#30a060" stroke-width="2"/><path d="M325.6 56.1 H328 M328 64.3 H329.9" stroke="#30a060" stroke-width="1" fill="none"/>
<path d="M332.9 54.2 V63.4 M330.7 60.7 H332.9 M332.9 56.1 H334.9" stroke="#000" stroke-width="1.1" fill="none"/>
<rect x="340.3" y="49.6" width="20" height="20.5" rx="2.2" ry="2.2" fill="#ffffff" stroke="#000" stroke-width="1.35"/>
<path d="M346.5 53.2 V66.6" stroke="#000" stroke-width="0.9"/><rect x="345.2" y="55.4" width="2.6" height="8.3" fill="#fff" stroke="#000" stroke-width="0.9"/>
<path d="M351.5 55.1 V68.5" stroke="#b02020" stroke-width="0.9"/><rect x="350.1" y="58.3" width="2.9" height="7.6" fill="#b02020"/>
<path d="M356.5 55.1 V66.6" stroke="#000" stroke-width="0.9"/><rect x="355.3" y="58.3" width="2.5" height="6.4" fill="#fff" stroke="#000" stroke-width="0.9"/>
<rect x="367.7" y="49.6" width="20.1" height="20.5" rx="2.2" ry="2.2" fill="#f5f0e9" stroke="#000" stroke-width="1.35"/>
<text x="370.6" y="59.8" font-size="8.5" fill="#000" font-family="Liberation Sans, sans-serif" stroke="#000" stroke-width="0.4" textLength="15.4" lengthAdjust="spacingAndGlyphs" letter-spacing="1.2">LOG</text>
<rect x="374.9" y="64.2" width="6.2" height="0.9" fill="#30a070"/><rect x="374.9" y="66" width="6.2" height="0.9" fill="#30a070"/>
<rect x="389.9" y="49.6" width="20.1" height="20.5" rx="2.2" ry="2.2" fill="#f5f0e9" stroke="#000" stroke-width="1.35"/>
<text x="392.8" y="59.8" font-size="8.5" fill="#000" font-family="Liberation Sans, sans-serif" stroke="#000" stroke-width="0.4" textLength="15.3" lengthAdjust="spacingAndGlyphs" letter-spacing="1.2">LOG</text>
<rect x="396.9" y="64.2" width="6.2" height="0.9" fill="#a01818"/><rect x="396.9" y="66" width="6.2" height="0.9" fill="#a01818"/><path d="M398.4 68.4 L401.9 62.4" stroke="#a01818" stroke-width="0.9" fill="none"/>
<rect x="412.3" y="49.6" width="19.8" height="20.5" rx="2.2" ry="2.2" fill="#ffffff" stroke="#000" stroke-width="1.35"/>
<text x="415.7" y="60.9" font-size="8.5" fill="#000" font-family="Liberation Sans, sans-serif" stroke="#000" stroke-width="0.4" textLength="16.2" lengthAdjust="spacingAndGlyphs" letter-spacing="2.4">LIN</text>
<rect x="419.9" y="65.4" width="6.2" height="0.9" fill="#30a070"/><rect x="419.9" y="67.2" width="6.2" height="0.9" fill="#30a070"/>
<rect x="434" y="49.6" width="19.9" height="20.5" rx="2.2" ry="2.2" fill="#f5f0e9" stroke="#000" stroke-width="1.35"/>
<text x="436.9" y="59.8" font-size="8.5" fill="#000" font-family="Liberation Sans, sans-serif" stroke="#000" stroke-width="0.4" textLength="16" lengthAdjust="spacingAndGlyphs" letter-spacing="2.4">LIN</text>
<rect x="441" y="64.2" width="6.2" height="0.9" fill="#a01818"/><rect x="441" y="66" width="6.2" height="0.9" fill="#a01818"/><path d="M442.5 68.4 L446 62.4" stroke="#a01818" stroke-width="0.9" fill="none"/>
<rect x="456.1" y="49.6" width="20" height="20.5" rx="2.2" ry="2.2" fill="#f5f0e9" stroke="#000" stroke-width="1.35"/>
<text x="461.1" y="61.1" font-size="11.4" fill="#000" font-family="Liberation Sans, sans-serif" stroke="#000" stroke-width="0.3" textLength="10.1" lengthAdjust="spacingAndGlyphs" >%</text>
<rect x="463" y="64.2" width="6.2" height="0.9" fill="#1a1a80"/><rect x="463" y="66" width="6.2" height="0.9" fill="#1a1a80"/>
<rect x="483.2" y="52.4" width="61.3" height="17" fill="#fff" stroke="#707070" stroke-width="0.9"/><rect x="498.7" y="53" width="45.2" height="15.9" fill="#f0f0f0"/>
<path d="M487 59.8 L491 63.6 L494.9 59.6" stroke="#444" stroke-width="1.1" fill="none"/>
<text x="541.8" y="64.6" font-size="10.5" fill="#222" font-family="Liberation Sans, sans-serif" textLength="26" lengthAdjust="spacingAndGlyphs" direction="rtl">שבועי</text>
<rect x="79.6" y="78.5" width="28.6" height="20.7" rx="2.2" ry="2.2" fill="#f5f0e9" stroke="#000" stroke-width="1.35"/>
<rect x="82.7" y="81.6" width="22.8" height="14.6" fill="#fff" stroke="#000" stroke-width="1"/>
<path d="M86.1 85.4 H90.9 M88.5 83 V87.8" stroke="#b02030" stroke-width="0.9"/>
<path d="M83.4 89.4 H94.2" stroke="#888" stroke-width="0.8" stroke-dasharray="0.8 1"/>
<path d="M83 94.5 L84.9 93.1 L86.5 94.5 L88.7 92.4 L90.3 93.4 L92.2 91.2 L95.7 95.6 L97.9 93.1" stroke="#202088" stroke-width="1.1" fill="none"/>
<path d="M94.1 85.4 H98 Q101.1 85.6 101.1 89.6" stroke="#000" stroke-width="0.9" fill="none"/><path d="M98.9 89.3 H103.3 L101.1 91.8 Z" fill="#000"/>
<rect x="111.9" y="78.5" width="20.1" height="20.7" rx="2.2" ry="2.2" fill="#f5f0e9" stroke="#000" stroke-width="1.35"/>
<text x="114.65" y="91.8" font-size="10.2" fill="#000" font-family="Liberation Mono, monospace" stroke="#000" stroke-width="0.3" textLength="14.6" lengthAdjust="spacingAndGlyphs" >BOL</text>
<rect x="135.2" y="79.4" width="26" height="18.5" fill="#f1f1f1"/>
<rect x="135.2" y="79.4" width="26" height="1.3" fill="#7d7d7d"/>
<rect x="135.2" y="79.4" width="1.3" height="18.5" fill="#7d7d7d"/>
<rect x="136.5" y="96.9" width="24.7" height="1" fill="#fbfbfb"/>
<rect x="160.2" y="80.7" width="1" height="17.2" fill="#fbfbfb"/>
<text x="148.5" y="90.9" font-size="10.1" fill="#111" font-family="Liberation Sans, sans-serif" stroke="#111" stroke-width="0.25" textLength="9.3" lengthAdjust="spacingAndGlyphs" >20</text>
<rect x="168.8" y="78.5" width="20.4" height="20.7" rx="2.2" ry="2.2" fill="#f5f0e9" stroke="#000" stroke-width="1.35"/>
<text x="171.8" y="87.7" font-size="9.9" fill="#000" font-family="Liberation Mono, monospace" stroke="#000" stroke-width="0.3" textLength="14.4" lengthAdjust="spacingAndGlyphs" >PAR</text>
<text x="171.8" y="96.9" font-size="9.9" fill="#000" font-family="Liberation Mono, monospace" stroke="#000" stroke-width="0.3" textLength="14.4" lengthAdjust="spacingAndGlyphs" >SAR</text>
<rect x="197" y="78.5" width="20" height="20.7" rx="2.2" ry="2.2" fill="#f5f0e9" stroke="#000" stroke-width="1.35"/>
<text x="199.8" y="87.7" font-size="9.9" fill="#000" font-family="Liberation Mono, monospace" stroke="#000" stroke-width="0.3" textLength="14.4" lengthAdjust="spacingAndGlyphs" >PIV</text>
<text x="199.8" y="96.9" font-size="9.9" fill="#000" font-family="Liberation Mono, monospace" stroke="#000" stroke-width="0.3" textLength="14.4" lengthAdjust="spacingAndGlyphs" >PTS</text>
<rect x="224.8" y="78.5" width="20" height="20.7" rx="2.2" ry="2.2" fill="#f5f0e9" stroke="#000" stroke-width="1.35"/>
<text x="227.5" y="91.8" font-size="10.2" fill="#000" font-family="Liberation Mono, monospace" stroke="#000" stroke-width="0.3" textLength="14.6" lengthAdjust="spacingAndGlyphs" >DMA</text>
<rect x="252.9" y="78.5" width="20.1" height="20.7" rx="2.2" ry="2.2" fill="#f5f0e9" stroke="#000" stroke-width="1.35"/>
<text x="255.65" y="91.8" font-size="10.2" fill="#000" font-family="Liberation Mono, monospace" stroke="#000" stroke-width="0.3" textLength="14.6" lengthAdjust="spacingAndGlyphs" >WMA</text>
<rect x="280.7" y="78.5" width="20.4" height="20.7" rx="2.2" ry="2.2" fill="#f5f0e9" stroke="#000" stroke-width="1.35"/>
<text x="283.65" y="88.9" font-size="10.2" fill="#000" font-family="Liberation Mono, monospace" stroke="#000" stroke-width="0.3" textLength="14.5" lengthAdjust="spacingAndGlyphs" >EMA</text>
<text x="290.9" y="96.9" font-size="7.9" fill="#b85030" font-family="Liberation Mono, monospace" text-anchor="middle" font-weight="bold" >1</text>
<rect x="304.3" y="79.4" width="25.7" height="18.5" fill="#f1f1f1"/>
<rect x="304.3" y="79.4" width="25.7" height="1.3" fill="#7d7d7d"/>
<rect x="304.3" y="79.4" width="1.3" height="18.5" fill="#7d7d7d"/>
<rect x="305.6" y="96.9" width="24.4" height="1" fill="#fbfbfb"/>
<rect x="329" y="80.7" width="1" height="17.2" fill="#fbfbfb"/>
<text x="317.4" y="90.9" font-size="10.1" fill="#111" font-family="Liberation Sans, sans-serif" stroke="#111" stroke-width="0.25" textLength="9.3" lengthAdjust="spacingAndGlyphs" >10</text>
<rect x="331.8" y="78.5" width="20.2" height="20.7" rx="2.2" ry="2.2" fill="#f5f0e9" stroke="#000" stroke-width="1.35"/>
<text x="334.65" y="88.9" font-size="10.2" fill="#000" font-family="Liberation Mono, monospace" stroke="#000" stroke-width="0.3" textLength="14.5" lengthAdjust="spacingAndGlyphs" >EMA</text>
<text x="341.9" y="96.9" font-size="7.9" fill="#e09a40" font-family="Liberation Mono, monospace" text-anchor="middle" font-weight="bold" >2</text>
<rect x="355.2" y="79.4" width="25.6" height="18.5" fill="#f1f1f1"/>
<rect x="355.2" y="79.4" width="25.6" height="1.3" fill="#7d7d7d"/>
<rect x="355.2" y="79.4" width="1.3" height="18.5" fill="#7d7d7d"/>
<rect x="356.5" y="96.9" width="24.3" height="1" fill="#fbfbfb"/>
<rect x="379.8" y="80.7" width="1" height="17.2" fill="#fbfbfb"/>
<text x="373.2" y="90.9" font-size="10.1" fill="#111" font-family="Liberation Sans, sans-serif" stroke="#111" stroke-width="0.25" textLength="4.5" lengthAdjust="spacingAndGlyphs" >5</text>
<rect x="382.8" y="78.5" width="20" height="20.7" rx="2.2" ry="2.2" fill="#f5f0e9" stroke="#000" stroke-width="1.35"/>
<text x="385.55" y="88.9" font-size="10.2" fill="#000" font-family="Liberation Mono, monospace" stroke="#000" stroke-width="0.3" textLength="14.5" lengthAdjust="spacingAndGlyphs" >EMA</text>
<text x="392.8" y="96.9" font-size="7.9" fill="#6464b4" font-family="Liberation Mono, monospace" text-anchor="middle" font-weight="bold" >3</text>
<rect x="407" y="79.4" width="25.9" height="18.5" fill="#f1f1f1"/>
<rect x="407" y="79.4" width="25.9" height="1.3" fill="#7d7d7d"/>
<rect x="407" y="79.4" width="1.3" height="18.5" fill="#7d7d7d"/>
<rect x="408.3" y="96.9" width="24.6" height="1" fill="#fbfbfb"/>
<rect x="431.9" y="80.7" width="1" height="17.2" fill="#fbfbfb"/>
<text x="420.5" y="90.9" font-size="10.1" fill="#111" font-family="Liberation Sans, sans-serif" stroke="#111" stroke-width="0.25" textLength="9.3" lengthAdjust="spacingAndGlyphs" >15</text>
<rect x="440.8" y="78.5" width="20.1" height="20.7" rx="2.2" ry="2.2" fill="#f5f0e9" stroke="#000" stroke-width="1.35"/>
<text x="443.6" y="88.9" font-size="10.2" fill="#000" font-family="Liberation Mono, monospace" stroke="#000" stroke-width="0.3" textLength="14.5" lengthAdjust="spacingAndGlyphs" >SMA</text>
<text x="450.85" y="96.9" font-size="7.9" fill="#b02020" font-family="Liberation Mono, monospace" text-anchor="middle" font-weight="bold" >1</text>
<rect x="464.3" y="79.4" width="25.8" height="18.5" fill="#f1f1f1"/>
<rect x="464.3" y="79.4" width="25.8" height="1.3" fill="#7d7d7d"/>
<rect x="464.3" y="79.4" width="1.3" height="18.5" fill="#7d7d7d"/>
<rect x="465.6" y="96.9" width="24.5" height="1" fill="#fbfbfb"/>
<rect x="489.1" y="80.7" width="1" height="17.2" fill="#fbfbfb"/>
<text x="477.4" y="90.9" font-size="10.1" fill="#111" font-family="Liberation Sans, sans-serif" stroke="#111" stroke-width="0.25" textLength="9.3" lengthAdjust="spacingAndGlyphs" >50</text>
<rect x="497.9" y="78.5" width="20.2" height="20.7" rx="2.2" ry="2.2" fill="#f5f0e9" stroke="#000" stroke-width="1.35"/>
<text x="500.75" y="88.9" font-size="10.2" fill="#000" font-family="Liberation Mono, monospace" stroke="#000" stroke-width="0.3" textLength="14.5" lengthAdjust="spacingAndGlyphs" >SMA</text>
<text x="508" y="96.9" font-size="7.9" fill="#b020c0" font-family="Liberation Mono, monospace" text-anchor="middle" font-weight="bold" >2</text>
<rect x="521.1" y="79.4" width="25.8" height="18.5" fill="#f1f1f1"/>
<rect x="521.1" y="79.4" width="25.8" height="1.3" fill="#7d7d7d"/>
<rect x="521.1" y="79.4" width="1.3" height="18.5" fill="#7d7d7d"/>
<rect x="522.4" y="96.9" width="24.5" height="1" fill="#fbfbfb"/>
<rect x="545.9" y="80.7" width="1" height="17.2" fill="#fbfbfb"/>
<text x="534.3" y="90.9" font-size="10.1" fill="#111" font-family="Liberation Sans, sans-serif" stroke="#111" stroke-width="0.25" textLength="9.3" lengthAdjust="spacingAndGlyphs" >20</text></g></g>
<g clip-path="url(#cr2)"><g transform="translate(2197,-4)"><rect x="77.7" y="105.2" width="472.4" height="57.6" fill="#fff"/>
<rect x="77.7" y="105.2" width="472.4" height="0.9" fill="#a8a8a8"/><rect x="77.7" y="105.2" width="0.9" height="57.4" fill="#a8a8a8"/>
<text x="84.6" y="117.9" font-size="9.3" fill="#15155e" font-family="Liberation Sans, sans-serif" stroke="#15155e" stroke-width="0.25" textLength="36.2" lengthAdjust="spacingAndGlyphs" >(2.0%+)</text>
<text x="124.3" y="117.9" font-size="9.3" fill="#15155e" font-family="Liberation Sans, sans-serif" stroke="#15155e" stroke-width="0.25" textLength="31.3" lengthAdjust="spacingAndGlyphs" >410.00</text>
<text x="186.2" y="117.9" font-size="9.6" fill="#15155e" font-family="Liberation Sans, sans-serif" stroke="#15155e" stroke-width="0.25" textLength="25" lengthAdjust="spacingAndGlyphs" direction="rtl">סגירה:</text>
<text x="187.3" y="117.9" font-size="9.3" fill="#15155e" font-family="Liberation Sans, sans-serif" stroke="#15155e" stroke-width="0.25" >|</text>
<text x="191.8" y="117.9" font-size="9.3" fill="#15155e" font-family="Liberation Sans, sans-serif" stroke="#15155e" stroke-width="0.25" textLength="32" lengthAdjust="spacingAndGlyphs" >400.00</text>
<text x="247.5" y="117.9" font-size="9.6" fill="#15155e" font-family="Liberation Sans, sans-serif" stroke="#15155e" stroke-width="0.25" textLength="18.1" lengthAdjust="spacingAndGlyphs" direction="rtl">נמוך:</text>
<text x="249.6" y="117.9" font-size="9.3" fill="#15155e" font-family="Liberation Sans, sans-serif" stroke="#15155e" stroke-width="0.25" >|</text>
<text x="254.4" y="117.9" font-size="9.3" fill="#15155e" font-family="Liberation Sans, sans-serif" stroke="#15155e" stroke-width="0.25" textLength="31.4" lengthAdjust="spacingAndGlyphs" >419.80</text>
<text x="309.4" y="117.9" font-size="9.6" fill="#15155e" font-family="Liberation Sans, sans-serif" stroke="#15155e" stroke-width="0.25" textLength="18.1" lengthAdjust="spacingAndGlyphs" direction="rtl">גבוה:</text>
<text x="312.2" y="117.9" font-size="9.3" fill="#15155e" font-family="Liberation Sans, sans-serif" stroke="#15155e" stroke-width="0.25" >|</text>
<text x="315.6" y="117.9" font-size="9.3" fill="#15155e" font-family="Liberation Sans, sans-serif" stroke="#15155e" stroke-width="0.25" textLength="32" lengthAdjust="spacingAndGlyphs" >402.10</text>
<text x="378.2" y="117.9" font-size="9.6" fill="#15155e" font-family="Liberation Sans, sans-serif" stroke="#15155e" stroke-width="0.25" textLength="25" lengthAdjust="spacingAndGlyphs" direction="rtl">פתיחה:</text>
<text x="381" y="117.9" font-size="9.3" fill="#15155e" font-family="Liberation Sans, sans-serif" stroke="#15155e" stroke-width="0.25" >|</text>
<text x="385.9" y="117.9" font-size="9.3" fill="#15155e" font-family="Liberation Sans, sans-serif" stroke="#15155e" stroke-width="0.25" textLength="52.9" lengthAdjust="spacingAndGlyphs" >01-08-2021</text>
<text x="469.4" y="117.9" font-size="9.6" fill="#15155e" font-family="Liberation Sans, sans-serif" stroke="#15155e" stroke-width="0.25" textLength="25.1" lengthAdjust="spacingAndGlyphs" direction="rtl">תאריך:</text>
<rect x="84.8" y="121.8" width="53.3" height="13.2" fill="#fff" stroke="#111" stroke-width="0.9"/>
<rect x="87.2" y="128.4" width="8.4" height="0.9" fill="#000"/>
<text x="135.6" y="132.4" font-size="10.3" fill="#111" font-family="Liberation Sans, sans-serif" textLength="34.5" lengthAdjust="spacingAndGlyphs" direction="rtl">נקסט גן</text>
<rect x="477" y="136.8" width="4.7" height="0.9" fill="#3a3a3a"/>
<rect x="84.8" y="137.3" width="392.5" height="14.9" fill="#fff" stroke="#4f7684" stroke-width="1"/>
<rect x="84.3" y="137" width="0.9" height="25.6" fill="#222"/>
<text x="88.5" y="148.8" font-size="11.8" fill="#111" font-family="Liberation Sans, sans-serif" stroke="#111" stroke-width="0.2" textLength="42.3" lengthAdjust="spacingAndGlyphs" >(2.0%+)</text>
<text x="135" y="148.8" font-size="11.8" fill="#111" font-family="Liberation Sans, sans-serif" stroke="#111" stroke-width="0.2" textLength="39.4" lengthAdjust="spacingAndGlyphs" >[410.00</text>
<text x="207.8" y="148.8" font-size="11.6" fill="#111" font-family="Liberation Sans, sans-serif" stroke="#111" stroke-width="0.2" textLength="28.5" lengthAdjust="spacingAndGlyphs" direction="rtl">סגירה:</text>
<text x="215.5" y="148.8" font-size="11.8" fill="#111" font-family="Liberation Sans, sans-serif" stroke="#111" stroke-width="0.2" textLength="36.2" lengthAdjust="spacingAndGlyphs" >400.00</text>
<text x="278.1" y="148.8" font-size="11.6" fill="#111" font-family="Liberation Sans, sans-serif" stroke="#111" stroke-width="0.2" textLength="20.9" lengthAdjust="spacingAndGlyphs" direction="rtl">נמוך:</text>
<text x="285.8" y="148.8" font-size="11.8" fill="#111" font-family="Liberation Sans, sans-serif" stroke="#111" stroke-width="0.2" textLength="36.2" lengthAdjust="spacingAndGlyphs" >419.80</text>
<text x="350.4" y="148.8" font-size="11.6" fill="#111" font-family="Liberation Sans, sans-serif" stroke="#111" stroke-width="0.2" textLength="23.7" lengthAdjust="spacingAndGlyphs" direction="rtl">גבוה:</text>
<text x="358" y="148.8" font-size="11.8" fill="#111" font-family="Liberation Sans, sans-serif" stroke="#111" stroke-width="0.2" textLength="36.2" lengthAdjust="spacingAndGlyphs" >402.10</text>
<text x="432.2" y="148.8" font-size="11.6" fill="#111" font-family="Liberation Sans, sans-serif" stroke="#111" stroke-width="0.2" textLength="33.3" lengthAdjust="spacingAndGlyphs" direction="rtl">פתיחה:</text>
<text x="432.9" y="148.8" font-size="11.8" fill="#111" font-family="Liberation Sans, sans-serif" stroke="#111" stroke-width="0.2" textLength="2.3" lengthAdjust="spacingAndGlyphs" >]</text>
<text x="474.1" y="148.8" font-size="11.6" fill="#111" font-family="Liberation Sans, sans-serif" stroke="#111" stroke-width="0.2" textLength="34.4" lengthAdjust="spacingAndGlyphs" direction="rtl">נקסט גן</text></g></g>
<g clip-path="url(#cfrag)"><text x="2656.5" y="159.6" font-size="10" fill="#111" font-family="Liberation Sans, sans-serif" textLength="18.5" lengthAdjust="spacingAndGlyphs" >800</text><rect x="2652.4" y="152.4" width="1" height="3" fill="#333"/></g>
<g clip-path="url(#crc)">
<path d="M2345.3 283.4 L2460.9 318.48 M2507.3 332.57 L2625.9 368.56" stroke="#5a5ab4" stroke-width="1.1" fill="none"/>
<rect x="2473" y="321.8" width="17.9" height="7" fill="#4040c8"/>
<path d="M2265.7 324.4 L2413.7 369.6 M2455.5 382.36 L2604.3 427.81" stroke="#5b84d2" stroke-width="1.1" fill="none"/>
<rect x="2421.1" y="373.1" width="17.9" height="7" fill="#4040c8"/>
<rect x="2208" y="377.3" width="1" height="36.6" fill="#c81c1c"/>
<rect x="2206.7" y="383" width="3.6" height="11.1" fill="#c81c1c"/>
<rect x="2231" y="325.1" width="1" height="68.4" fill="#1f8a1f"/>
<rect x="2229.7" y="342.6" width="3.6" height="44.2" fill="#1f8a1f"/>
<rect x="2254" y="337.2" width="1" height="35.6" fill="#c81c1c"/>
<rect x="2252.7" y="342.2" width="3.6" height="12.8" fill="#c81c1c"/>
<rect x="2277" y="328.2" width="1" height="36.3" fill="#1f8a1f"/>
<rect x="2275.7" y="345.1" width="3.6" height="8.6" fill="#1f8a1f"/>
<rect x="2300" y="314.2" width="1" height="33.1" fill="#1f8a1f"/>
<rect x="2298.7" y="316.1" width="3.6" height="29.3" fill="#1f8a1f"/>
<rect x="2322" y="294.8" width="1" height="23.6" fill="#1f8a1f"/>
<rect x="2320.7" y="298.3" width="3.6" height="11.5" fill="#1f8a1f"/>
<rect x="2345" y="283.4" width="1" height="50.3" fill="#c81c1c"/>
<rect x="2343.7" y="298" width="3.6" height="26.7" fill="#c81c1c"/>
<rect x="2368" y="317.1" width="1" height="36.3" fill="#c81c1c"/>
<rect x="2366.7" y="318.1" width="3.6" height="10.8" fill="#c81c1c"/>
<rect x="2391" y="322.5" width="1" height="33.8" fill="#c81c1c"/>
<rect x="2389.7" y="327.3" width="3.6" height="16.5" fill="#c81c1c"/>
<rect x="2414" y="317.1" width="1" height="37.6" fill="#1f8a1f"/>
<rect x="2412.7" y="326" width="3.6" height="16.9" fill="#1f8a1f"/>
<rect x="2437" y="316.8" width="1" height="37.9" fill="#c81c1c"/>
<rect x="2435.7" y="317.1" width="3.6" height="35.7" fill="#c81c1c"/>
<rect x="2460" y="342.5" width="1" height="27.4" fill="#c81c1c"/>
<rect x="2458.7" y="346.7" width="3.6" height="18.4" fill="#c81c1c"/>
<rect x="2483" y="355.2" width="1" height="35.1" fill="#c81c1c"/>
<rect x="2481.7" y="363.2" width="3.6" height="16.9" fill="#c81c1c"/>
<rect x="2506" y="375.3" width="1" height="22" fill="#c81c1c"/>
<rect x="2504.7" y="384.5" width="3.6" height="4.5" fill="#c81c1c"/>
<rect x="2528" y="339.3" width="1" height="51.6" fill="#1f8a1f"/>
<rect x="2526.7" y="373.4" width="3.6" height="14.6" fill="#1f8a1f"/>
<rect x="2551" y="363.8" width="1" height="12.1" fill="#1f8a1f"/>
<rect x="2549.7" y="368.6" width="3.6" height="5.7" fill="#1f8a1f"/>
<ellipse cx="2555.5" cy="347.1" rx="18.9" ry="8.8" fill="none" stroke="#ecbf40" stroke-width="2.8"/>
<rect x="2607.1" y="265.6" width="1" height="193" fill="#333"/>
<rect x="2607.1" y="265.2" width="3.6" height="1" fill="#333"/>
<text x="2612.4" y="269.1" font-size="10" fill="#111" font-family="Liberation Sans, sans-serif" stroke="#111" stroke-width="0.2" textLength="32.6" lengthAdjust="spacingAndGlyphs" >600.00</text>
<rect x="2607.1" y="320.1" width="3.6" height="1" fill="#333"/>
<text x="2612.4" y="324" font-size="10" fill="#111" font-family="Liberation Sans, sans-serif" stroke="#111" stroke-width="0.2" textLength="32.6" lengthAdjust="spacingAndGlyphs" >500.00</text>
<rect x="2607.1" y="374.9" width="3.6" height="1" fill="#333"/>
<text x="2612.4" y="378.8" font-size="10" fill="#111" font-family="Liberation Sans, sans-serif" stroke="#111" stroke-width="0.2" textLength="32.6" lengthAdjust="spacingAndGlyphs" >400.00</text>
<rect x="2607.1" y="429.7" width="3.6" height="1" fill="#333"/>
<text x="2612.4" y="433.6" font-size="10" fill="#111" font-family="Liberation Sans, sans-serif" stroke="#111" stroke-width="0.2" textLength="32.6" lengthAdjust="spacingAndGlyphs" >300.00</text>
<rect x="2613.9" y="341.7" width="38.2" height="11.1" fill="#fff" stroke="#666" stroke-width="1.1"/>
<text x="2616.9" y="350.8" font-size="10" fill="#111" font-family="Liberation Sans, sans-serif" stroke="#111" stroke-width="0.2" textLength="32.3" lengthAdjust="spacingAndGlyphs" >450.23</text>
<path d="M2608.2 369.3 H2610.8 L2611.8 372 H2613.5" stroke="#1f8a1f" stroke-width="0.9" fill="none"/>
<rect x="2613.9" y="365.9" width="38.2" height="10.9" fill="#fff" stroke="#222" stroke-width="1.2"/>
<text x="2616.9" y="375.1" font-size="10" fill="#1f8a1f" font-family="Liberation Sans, sans-serif" stroke="#1f8a1f" stroke-width="0.2" textLength="32.3" lengthAdjust="spacingAndGlyphs" >410.00</text>
</g>
</svg>
</body></html>
